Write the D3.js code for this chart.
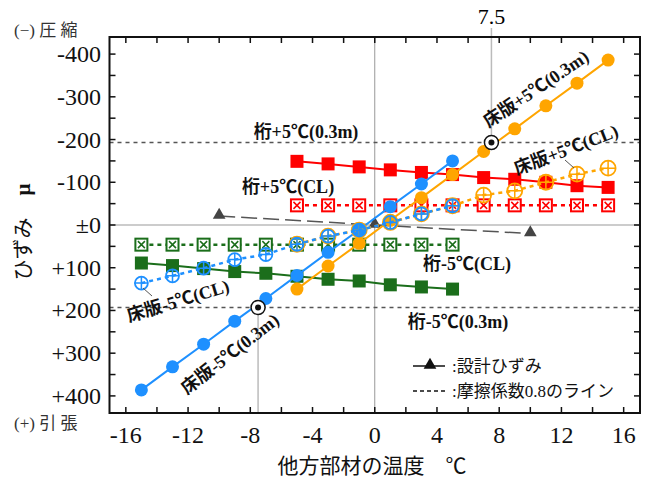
<!DOCTYPE html>
<html><head><meta charset="utf-8">
<script src="https://cdn.jsdelivr.net/npm/d3@7"></script>
<style>
body{margin:0;background:#fff;}
svg{display:block;}
text{font-family:"Liberation Serif","Noto Sans CJK JP",serif;}
</style></head>
<body>
<svg id="c" width="653" height="481"></svg>
<script>
// ---- data ----
const xPlus = [-5,-3,-1,1,3,5,7,9,11,13,15];
const xMinus = [-15,-13,-11,-9,-7,-5,-3,-1,1,3,5];
const slabPlus03 = [150,96,43,-11,-64,-118,-172,-225,-279,-332,-386];
const slabMinus03 = [386,332,279,225,172,118,64,11,-43,-96,-150];
const girderPlus03 = [-149,-143,-136,-129,-123,-118,-111,-107,-100,-92,-88];
const girderMinus03 = [89,95,102,109,113,120,127,131,140,145,150];
const girderPlusCL = [-46,-46,-46,-46,-46,-46,-46,-46,-46,-46,-46];
const girderMinusCL = [46,46,46,46,46,46,46,46,46,46,46];
const slabPlusCL = [45,26,12,-6,-26,-45,-70,-80,-100,-119,-133];
const slabMinusCL = [136,119,101,81,69,45,26,12,-6,-26,-45];
const designX = [-10,0,10];
const designV = [-21,0,20];
const frictionV = [-193,193];
const markX = [7.5,-7.5];
const xTicks = [-16,-12,-8,-4,0,4,8,12,16];
const yTicks = [-400,-300,-200,-100,0,100,200,300,400];
const yTickLabels = ["-400","-300","-200","-100","±0","+100","+200","+300","+400"];

const C = {orange:"#FFA500", blue:"#1E90FF", red:"#FF0000", green:"#1B6E1B"};

const svg = d3.select("#c");
const L=109.5,R=640,T=37,B=413;
const x = d3.scaleLinear().domain([-17.05,17.05]).range([L,R]);
const y = d3.scaleLinear().domain([-440,440]).range([T,B]);

// center gray lines
svg.append("line").attr("x1",x(0)).attr("x2",x(0)).attr("y1",T).attr("y2",B).attr("stroke","#999").attr("stroke-width",1);
svg.append("line").attr("x1",L).attr("x2",R).attr("y1",y(0)).attr("y2",y(0)).attr("stroke","#999").attr("stroke-width",1);

// friction lines
frictionV.forEach(v=>{
  svg.append("line").attr("x1",L).attr("x2",R).attr("y1",y(v)).attr("y2",y(v))
    .attr("stroke","#555").attr("stroke-width",1.5).attr("stroke-dasharray","4,4");
});

// 7.5 vertical lines
svg.append("line").attr("x1",x(markX[0])).attr("x2",x(markX[0])).attr("y1",28).attr("y2",y(frictionV[0]))
  .attr("stroke","#bbb").attr("stroke-width",1.5);
svg.append("line").attr("x1",x(markX[1])).attr("x2",x(markX[1])).attr("y1",y(frictionV[1])).attr("y2",B)
  .attr("stroke","#bbb").attr("stroke-width",1.5);
svg.append("text").attr("x",x(markX[0])).attr("y",24).attr("text-anchor","middle")
  .attr("font-size",22).text("7.5");

// design strain line
const line = d3.line().x(d=>x(d[0])).y(d=>y(d[1]));
const dpts = designX.map((d,i)=>[d,designV[i]]);
svg.append("path").attr("d",line(dpts)).attr("fill","none").attr("stroke","#555")
  .attr("stroke-width",1.5).attr("stroke-dasharray","16,6");
const tri = d3.symbol().type(d3.symbolTriangle).size(70);
svg.selectAll(".tri").data(dpts).enter().append("path")
  .attr("d",tri).attr("transform",d=>`translate(${x(d[0])},${y(d[1])-1})`).attr("fill","#444");

function series(xs, vs, color, lineStyle, marker){
  const pts = xs.map((d,i)=>[d,vs[i]]);
  const p = svg.append("path").attr("d",line(pts)).attr("fill","none").attr("stroke",color)
    .attr("stroke-width",lineStyle==="dot"?2.5:2);
  if(lineStyle==="dot") p.attr("stroke-dasharray","4,4");
  const g = svg.append("g");
  pts.forEach(d=>{
    const cx=x(d[0]), cy=y(d[1]);
    if(marker==="circle"){
      g.append("circle").attr("cx",cx).attr("cy",cy).attr("r",6.5).attr("fill",color);
    } else if(marker==="square"){
      g.append("rect").attr("x",cx-6.5).attr("y",cy-6.5).attr("width",13).attr("height",13).attr("fill",color);
    } else if(marker==="boxx"){
      g.append("rect").attr("x",cx-6).attr("y",cy-6).attr("width",12).attr("height",12)
        .attr("fill","#fff").attr("stroke",color).attr("stroke-width",2);
      g.append("path").attr("d",`M${cx-3.5},${cy-3.5}L${cx+3.5},${cy+3.5}M${cx+3.5},${cy-3.5}L${cx-3.5},${cy+3.5}`)
        .attr("stroke",color).attr("stroke-width",1.5);
    } else if(marker.startsWith("oplus")){
      const r = marker==="oplusL"?7.5:6.5;
      g.append("circle").attr("cx",cx).attr("cy",cy).attr("r",r).attr("fill","none")
        .attr("stroke",color).attr("stroke-width",1.8);
      g.append("path").attr("d",`M${cx-r},${cy}L${cx+r},${cy}M${cx},${cy-r}L${cx},${cy+r}`)
        .attr("stroke",color).attr("stroke-width",1.5);
    }
  });
}

series(xMinus, girderMinusCL, C.green, "dot", "boxx");
series(xPlus, girderPlusCL, C.red, "dot", "boxx");
series(xMinus, girderMinus03, C.green, "solid", "square");
series(xPlus, girderPlus03, C.red, "solid", "square");
series(xPlus, slabPlus03, C.orange, "solid", "circle");
series(xMinus, slabMinus03, C.blue, "solid", "circle");
series(xPlus, slabPlusCL, C.orange, "dot", "oplusL");
series(xMinus, slabMinusCL, C.blue, "dot", "oplus");

// 7.5 markers
[[markX[0],frictionV[0]],[markX[1],frictionV[1]]].forEach(d=>{
  svg.append("circle").attr("cx",x(d[0])).attr("cy",y(d[1])).attr("r",7).attr("fill","#fff")
    .attr("stroke","#111").attr("stroke-width",1.5);
  svg.append("circle").attr("cx",x(d[0])).attr("cy",y(d[1])).attr("r",3).attr("fill","#111");
});

// axes frame
svg.append("rect").attr("x",L).attr("y",T).attr("width",R-L).attr("height",B-T)
  .attr("fill","none").attr("stroke","#111").attr("stroke-width",2);

const xMinor = d3.range(-16,17,2);
const yMinor = d3.range(-400,401,50);
const tk = 6;
xMinor.forEach(t=>{
  svg.append("line").attr("x1",x(t)).attr("x2",x(t)).attr("y1",B).attr("y2",B-tk).attr("stroke","#111").attr("stroke-width",1.5);
  svg.append("line").attr("x1",x(t)).attr("x2",x(t)).attr("y1",T).attr("y2",T+tk).attr("stroke","#111").attr("stroke-width",1.5);
});
yMinor.forEach(t=>{
  svg.append("line").attr("x1",L).attr("x2",L+tk).attr("y1",y(t)).attr("y2",y(t)).attr("stroke","#111").attr("stroke-width",1.5);
  svg.append("line").attr("x1",R).attr("x2",R-tk).attr("y1",y(t)).attr("y2",y(t)).attr("stroke","#111").attr("stroke-width",1.5);
});
xTicks.forEach(t=>{
  svg.append("text").attr("x",x(t)).attr("y",443).attr("text-anchor","middle").attr("font-size",24).attr("fill","#111")
    .text(t<0?"-"+Math.abs(t):String(t));
});
yTicks.forEach((t,i)=>{
  svg.append("text").attr("x",101).attr("y",y(t)+8).attr("text-anchor","end").attr("font-size",24).attr("fill","#111")
    .text(yTickLabels[i]);
});

// axis titles
svg.append("text").attr("x",372).attr("y",473).attr("text-anchor","middle").attr("font-size",21).attr("fill","#111")
  .text("他方部材の温度　℃");
const yt = svg.append("text").attr("transform","translate(30,232) rotate(-90)").attr("text-anchor","middle")
  .attr("font-size",21).attr("fill","#111");
yt.append("tspan").text("ひずみ");
yt.append("tspan").attr("dx",22).attr("font-weight","bold").text("μ");
svg.append("text").attr("x",14).attr("y",36).attr("font-size",17).attr("fill","#333")
  .attr("font-family","Noto Sans CJK JP").text("(−) 圧 縮");
svg.append("text").attr("x",14).attr("y",429).attr("font-size",17).attr("fill","#333")
  .attr("font-family","Noto Sans CJK JP").text("(+) 引 張");

// annotations
function lab(txt, cx, cy, rot){
  svg.append("text").attr("transform",`translate(${cx},${cy}) rotate(${rot})`).attr("text-anchor","middle")
    .attr("dominant-baseline","central").attr("font-size",18).attr("font-weight","bold").attr("fill","#111").text(txt);
}
lab("床版+5℃(0.3m)", 536, 89, -34);
lab("床版+5℃(CL)", 566, 150, -21);
lab("桁+5℃(0.3m)", 306, 132, 0);
lab("桁+5℃(CL)", 288, 187, 0);
lab("桁-5℃(CL)", 467, 264, 0);
lab("桁-5℃(0.3m)", 458, 322, 0);
lab("床版-5℃(CL)", 178, 301, -17);
lab("床版-5℃(0.3m)", 230, 354, -38);
// leader lines
svg.append("line").attr("x1",565).attr("y1",160).attr("x2",574).attr("y2",168).attr("stroke","#555").attr("stroke-width",1);
svg.append("line").attr("x1",143).attr("y1",288).attr("x2",152).attr("y2",296).attr("stroke","#555").attr("stroke-width",1);

// legend
svg.append("line").attr("x1",413).attr("x2",445).attr("y1",366).attr("y2",366).attr("stroke","#111").attr("stroke-width",1.5);
svg.append("path").attr("d",tri).attr("transform","translate(430,365)").attr("fill","#111");
svg.append("text").attr("x",452).attr("y",372).attr("font-size",17).attr("fill","#111").text(":設計ひずみ");
svg.append("line").attr("x1",413).attr("x2",445).attr("y1",391).attr("y2",391).attr("stroke","#111").attr("stroke-width",1.5).attr("stroke-dasharray","4,3");
svg.append("text").attr("x",452).attr("y",397).attr("font-size",17).attr("fill","#111").text(":摩擦係数0.8のライン");
</script>
</body></html>
